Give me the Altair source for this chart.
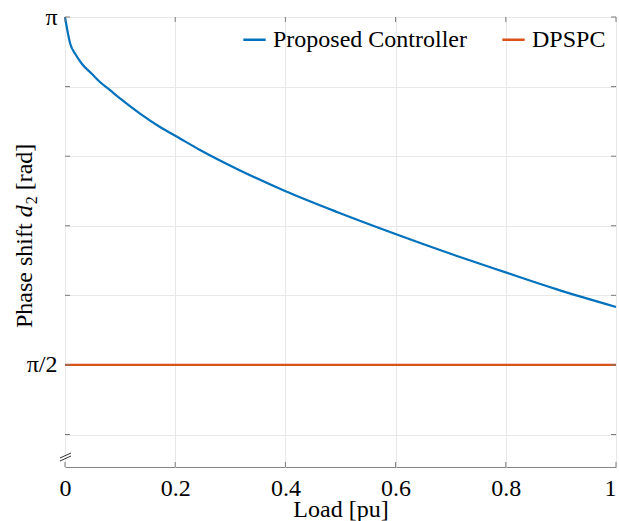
import math
import altair as alt
import pandas as pd

# Data
load_proposed = [0, 0.0096, 0.0187, 0.0309, 0.049, 0.0635, 0.0817, 0.0998, 0.1361, 0.1724, 0.2087,
                 0.245, 0.3122, 0.3993, 0.4936, 0.5898, 0.6497, 0.7114, 0.7985, 0.8929, 1.0]
phase_proposed = [3.1416, 3.0197, 2.9746, 2.9295, 2.8843, 2.8482, 2.8111, 2.7738, 2.7056, 2.6451, 2.5931,
                  2.5413, 2.4555, 2.3561, 2.2614, 2.1711, 2.1170, 2.0628, 1.9897, 1.9119, 1.8326]
load_dpspc = [0, 1.0]
phase_dpspc = [math.pi / 2, math.pi / 2]
series_names = ["Proposed Controller", "DPSPC"]
series_colors = ["#0072BD", "#D95319"]
x_ticks = [0, 0.2, 0.4, 0.6, 0.8, 1.0]
y_ticks = [math.pi / 2 + k * math.pi / 10 for k in range(-1, 6)]
y_min = 1.11
y_title_parts = ["Phase shift", "d", "2", "[rad]"]

df = pd.concat([
    pd.DataFrame({"load": load_proposed, "phase": phase_proposed, "series": series_names[0]}),
    pd.DataFrame({"load": load_dpspc, "phase": phase_dpspc, "series": series_names[1]}),
])
tick_x = pd.DataFrame({"v": x_ticks})
tick_y = pd.DataFrame({"v": y_ticks})

FONT = "Liberation Serif"
FS = 24
W, H = 551, 450

xs = alt.Scale(domain=[0, 1], nice=False)
ys = alt.Scale(domain=[y_min, math.pi], nice=False, zero=False)

lines = alt.Chart(df).mark_line(strokeWidth=2.2, interpolate="monotone").encode(
    x=alt.X("load:Q", scale=xs,
            axis=alt.Axis(values=x_ticks, title="Load [pu]", format="~g",
                          grid=True, ticks=False, domain=False, labelFlush=False,
                          labelAlign={"condition": {"test": "datum.value >= 1", "value": "right"}, "value": "center"},
                          labelFont=FONT, titleFont=FONT, labelFontSize=FS, titleFontSize=FS,
                          labelPadding=9, titlePadding=-3)),
    y=alt.Y("phase:Q", scale=ys,
            axis=alt.Axis(values=y_ticks, title=None,
                          labelExpr="abs(datum.value - PI) < 0.01 ? 'π' : (abs(datum.value - PI/2) < 0.01 ? 'π/2' : '')",
                          grid=True, ticks=False, domain=False, labelFlush=False,
                          labelFont=FONT, labelFontSize=FS, labelPadding=8)),
    color=alt.Color("series:N", sort=series_names,
                    scale=alt.Scale(domain=series_names, range=series_colors),
                    legend=alt.Legend(title=None, orient="top-right", direction="horizontal",
                                      symbolType="stroke", symbolSize=500, symbolStrokeWidth=2.5,
                                      labelFontSize=FS, labelFont=FONT, labelColor="black",
                                      offset=10, columnPadding=30, labelOffset=6, labelLimit=300)),
)

tick_col = "#7a7a7a"
xb = alt.Chart(tick_x).mark_rule(color=tick_col).encode(
    x=alt.X("v:Q", scale=xs), y=alt.value(H), y2=alt.value(H - 5))
xt = alt.Chart(tick_x).mark_rule(color=tick_col).encode(
    x=alt.X("v:Q", scale=xs), y=alt.value(0), y2=alt.value(5))
yl = alt.Chart(tick_y).mark_rule(color=tick_col).encode(
    y=alt.Y("v:Q", scale=ys), x=alt.value(0), x2=alt.value(5))
yr = alt.Chart(tick_y).mark_rule(color=tick_col).encode(
    y=alt.Y("v:Q", scale=ys), x=alt.value(W), x2=alt.value(W - 5))

one = pd.DataFrame({"k": [0]})
brk1 = alt.Chart(one).mark_rule(color="#333333", strokeWidth=1).encode(
    x=alt.value(-5), x2=alt.value(6), y=alt.value(441), y2=alt.value(436))
brk2 = alt.Chart(one).mark_rule(color="#333333", strokeWidth=1).encode(
    x=alt.value(-5), x2=alt.value(6), y=alt.value(444), y2=alt.value(439))

# Y-axis title with italic d and subscript 2, built from rotated text pieces
base_x = -33
start_y = 311
w_main = 4.611 * FS
w_d = 0.5 * FS + 1
w_sub = 0.5 * 16 + 0.25 * FS
t1 = alt.Chart(one).mark_text(text=y_title_parts[0], font=FONT, fontSize=FS, angle=270,
                              align="left", baseline="alphabetic", color="black").encode(
    x=alt.value(base_x), y=alt.value(start_y))
t2 = alt.Chart(one).mark_text(text=y_title_parts[1], font=FONT, fontSize=FS, fontStyle="italic", angle=270,
                              align="left", baseline="alphabetic", color="black").encode(
    x=alt.value(base_x), y=alt.value(start_y - w_main))
t3 = alt.Chart(one).mark_text(text=y_title_parts[2], font=FONT, fontSize=16, angle=270,
                              align="left", baseline="alphabetic", color="black").encode(
    x=alt.value(base_x + 5), y=alt.value(start_y - w_main - w_d))
t4 = alt.Chart(one).mark_text(text=y_title_parts[3], font=FONT, fontSize=FS, angle=270,
                              align="left", baseline="alphabetic", color="black").encode(
    x=alt.value(base_x), y=alt.value(start_y - w_main - w_d - w_sub))

chart = alt.layer(lines, xb, xt, yl, yr, brk1, brk2, t1, t2, t3, t4).properties(
    width=W, height=H,
    autosize=alt.AutoSizeParams(type="none"),
    padding={"left": 65, "top": 17, "right": 3, "bottom": 54},
    background="white",
).configure_view(
    stroke="#858585", strokeWidth=1
).configure_axis(
    labelColor="black", titleColor="black", titleFontWeight="normal",
    gridColor="#e8e8e8", gridWidth=1,
)

chart.save("out.html", embed_options={"renderer": "svg", "actions": False})
